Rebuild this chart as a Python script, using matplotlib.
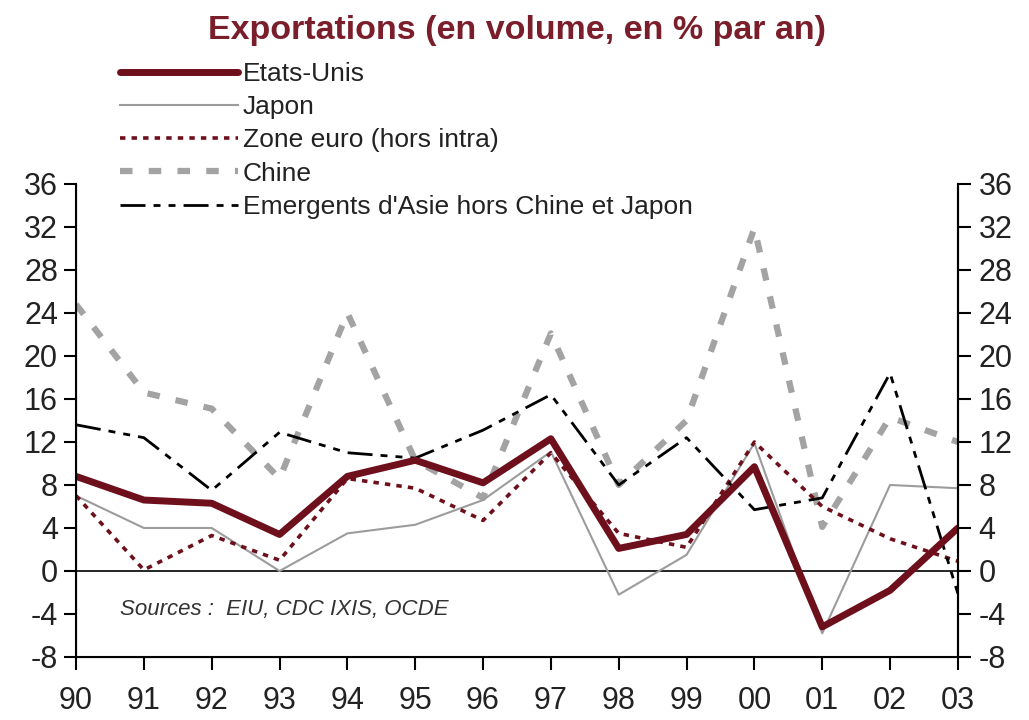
import numpy as np
import matplotlib
matplotlib.use('Agg')
import matplotlib.pyplot as plt

plt.rcParams['font.family'] = ['Liberation Sans', 'DejaVu Sans']
plt.rcParams['axes.unicode_minus'] = False

# Données
annees = ['90', '91', '92', '93', '94', '95', '96', '97', '98', '99', '00', '01', '02', '03']
etats_unis = [8.8, 6.6, 6.3, 3.4, 8.8, 10.3, 8.2, 12.3, 2.1, 3.4, 9.7, -5.2, -1.8, 4.0]
japon = [7.0, 4.0, 4.0, 0.0, 3.5, 4.3, 6.6, 11.1, -2.2, 1.5, 11.9, -5.8, 8.0, 7.7]
zone_euro = [7.0, 0.1, 3.3, 1.0, 8.6, 7.7, 4.7, 11.0, 3.5, 2.2, 12.0, 6.0, 3.0, 0.9]
chine = [24.8, 16.6, 15.1, 8.6, 24.0, 10.3, 6.8, 22.1, 8.0, 14.0, 31.9, 4.1, 14.3, 12.0]
emergents = [13.6, 12.4, 7.5, 12.9, 11.0, 10.5, 13.1, 16.4, 8.0, 12.4, 5.7, 6.8, 18.4, -2.1]

yticks = np.arange(-8, 37, 4)

rouge = '#6E0F1C'
gris = '#A3A3A3'

fig = plt.figure(figsize=(10.29, 7.2), dpi=100)
ax = fig.add_axes([0.0739, 0.0875, 0.857, 0.657])
x = np.arange(len(annees))

ax.axhline(0, color='black', lw=1.2, zorder=1)

ax.plot(x, japon, color='#9C9C9C', lw=1.5, label='Japon', zorder=3)
ax.plot(x, chine, color=gris, lw=4.5, dashes=(2.0, 2.6), label='Chine', zorder=2)
ax.plot(x, zone_euro, color=rouge, lw=2.6, dashes=(1.5, 1.7), label='Zone euro (hors intra)', zorder=4)
ax.plot(x, emergents, color='black', lw=2.0, dashes=(9, 2.9, 2.5, 2.9, 2.5, 2.9),
        label="Emergents d'Asie hors Chine et Japon", zorder=4)
ax.plot(x, etats_unis, color=rouge, lw=5, label='Etats-Unis', zorder=5, solid_capstyle='round')

ax.set_xlim(0, len(annees) - 1)
ax.set_ylim(-8, 36)
ax.set_yticks(yticks)
ax.set_xticks(x)
ax.set_xticklabels(annees)
ax.spines['top'].set_visible(False)
for s in ['left', 'bottom', 'right']:
    ax.spines[s].set_linewidth(1.5)
ax.tick_params(axis='both', direction='out', length=9, width=1.5, labelsize=22,
               colors='black', labelcolor='#222222')
ax.tick_params(axis='y', pad=4)
ax.tick_params(axis='x', pad=12)

ax2 = ax.twinx()
ax2.set_ylim(-8, 36)
ax2.set_yticks(yticks)
ax2.spines['top'].set_visible(False)
ax2.spines['right'].set_linewidth(1.5)
ax2.tick_params(axis='y', direction='out', length=9, width=1.5, labelsize=22,
                pad=6, labelcolor='#222222')

# Légende (ordre du graphique d'origine)
handles, labels = ax.get_legend_handles_labels()
ordre = ['Etats-Unis', 'Japon', 'Zone euro (hors intra)', 'Chine', "Emergents d'Asie hors Chine et Japon"]
h = [handles[labels.index(l)] for l in ordre]
leg = fig.legend(h, ordre, loc='upper left', bbox_to_anchor=(0.117, 0.914), frameon=False,
                 fontsize=19, handlelength=4.45, handletextpad=0.2, labelspacing=0.35,
                 borderpad=0, borderaxespad=0)
for t in leg.get_texts():
    t.set_color('#222222')

fig.text(0.502, 0.958, 'Exportations (en volume, en % par an)', ha='center', va='center',
         fontsize=24.5, color='#7B1E2B', fontweight='bold')

ax.text(0.65, -3.6, 'Sources :  EIU, CDC IXIS, OCDE', fontsize=16, style='italic',
        color='#333333', va='center')

fig.savefig('out.png', dpi=100)
